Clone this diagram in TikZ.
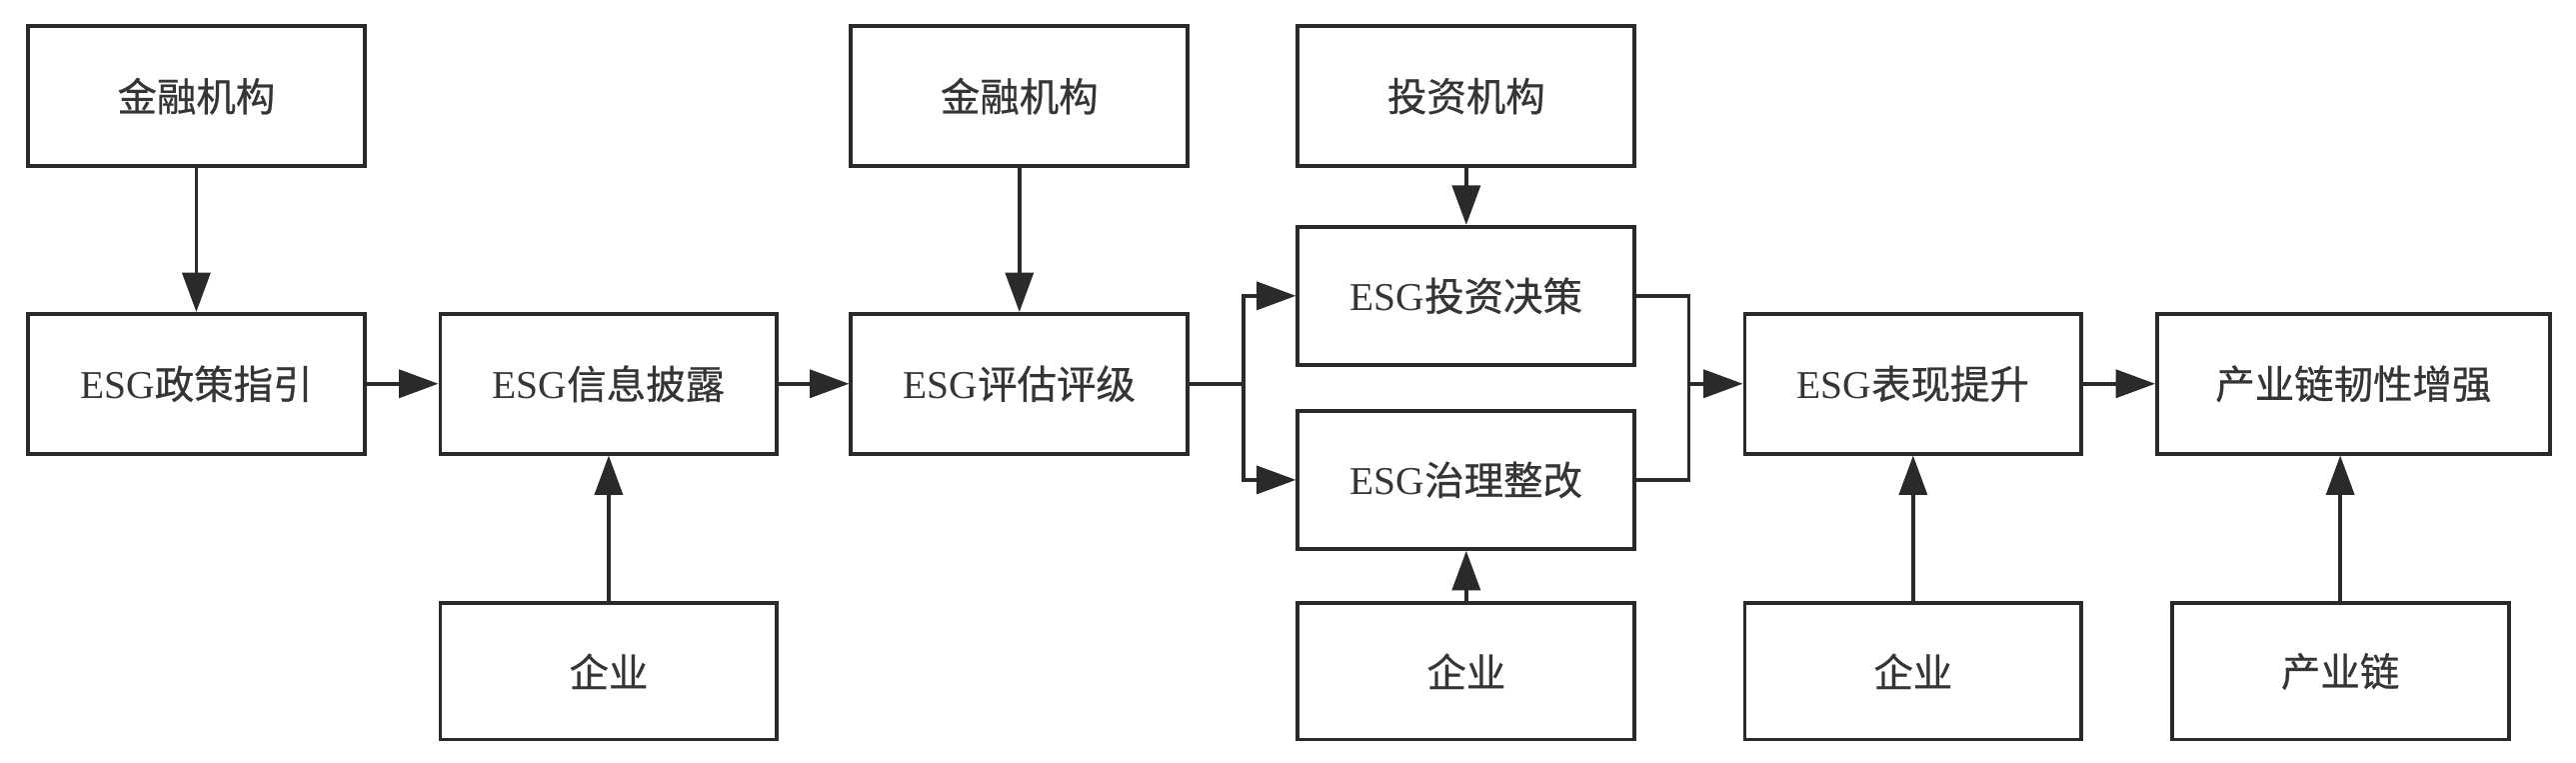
\documentclass[tikz,border=0pt]{standalone}
\usepackage{fontspec}
\setmainfont{Liberation Serif}
\newfontfamily\cjk[FakeBold=0.6]{Noto Sans CJK SC}
\usetikzlibrary{arrows.meta,positioning,calc}
\definecolor{ink}{HTML}{2A2A2A}
\definecolor{txt}{HTML}{353535}
\tikzset{
  box/.style={draw=ink, line width=2.3pt, fill=white, inner sep=0pt, text=txt,
    font=\fontsize{24}{28}\selectfont},
  conn/.style={draw=ink, line width=2.3pt, -{Triangle[length=24pt,width=17pt]}},
  plain/.style={draw=ink, line width=2.3pt}
}
\newcommand{\bx}[6]{% name, x1, y1, x2, y2, text
  \node[box, minimum width={(#4-#2)*1pt}, minimum height={(#5-#3)*1pt}] (#1) at ({(#2+#4)/2},{(#3+#5)/2}) {#6};}
\begin{document}
\begin{tikzpicture}[x=1pt,y=-1pt]
\useasboundingbox[fill=white] (0,0) rectangle (1568,464);
% top row
\bx{jr1}{17}{16}{222}{101}{\cjk 金融机构}
\bx{jr2}{518}{16}{723}{101}{\cjk 金融机构}
\bx{tz}{790}{16}{995}{101}{\cjk 投资机构}
% middle row
\bx{zc}{17}{191}{222}{276}{ESG{\cjk 政策指引}}
\bx{xx}{268}{191}{473}{276}{ESG{\cjk 信息披露}}
\bx{pg}{518}{191}{723}{276}{ESG{\cjk 评估评级}}
\bx{jc}{790}{138}{995}{222}{ESG{\cjk 投资决策}}
\bx{zl}{790}{250}{995}{334}{ESG{\cjk 治理整改}}
\bx{bx}{1062}{191}{1267}{276}{ESG{\cjk 表现提升}}
\bx{rx}{1313}{191}{1552}{276}{\cjk 产业链韧性增强}
% bottom row
\bx{qy1}{268}{367}{473}{450}{\cjk 企业}
\bx{qy2}{790}{367}{995}{450}{\cjk 企业}
\bx{qy3}{1062}{367}{1267}{450}{\cjk 企业}
\bx{cyl}{1322}{367}{1527}{450}{\cjk 产业链}
% coordinates
\coordinate (split) at (757,233.5);
\coordinate (merge) at (1028,233.5);
% connectors
\draw[conn] (jr1) -- (zc);
\draw[conn] (zc) -- (xx);
\draw[conn] (qy1) -- (xx);
\draw[conn] (xx) -- (pg);
\draw[conn] (jr2) -- (pg);
\draw[plain] (pg.east) -- (split);
\draw[conn] (split) |- (jc.west);
\draw[conn] (split) |- (zl.west);
\draw[conn] (tz) -- (jc);
\draw[conn] (qy2) -- (zl);
\draw[plain] (jc.east) -| (merge);
\draw[plain] (zl.east) -| (merge);
\draw[conn] (merge) -- (bx.west);
\draw[conn] (qy3) -- (bx);
\draw[conn] (bx) -- (rx);
\draw[conn] (cyl.north) -- (cyl.north |- rx.south);
\end{tikzpicture}
\end{document}
